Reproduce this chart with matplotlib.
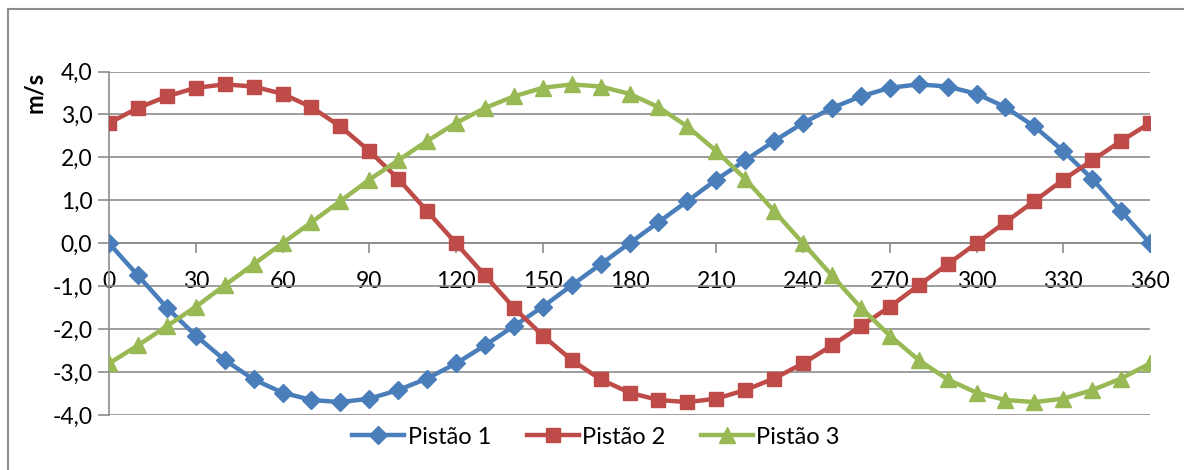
import matplotlib
matplotlib.use("Agg")
import matplotlib.pyplot as plt
from matplotlib.patches import Rectangle

angles = list(range(0, 361, 10))

pistao1 = [0.00, -0.75, -1.50, -2.15, -2.72, -3.17, -3.48, -3.65, -3.70, -3.62,
           -3.42, -3.15, -2.80, -2.38, -1.93, -1.48, -0.98, -0.49, 0.00, 0.49,
           0.98, 1.48, 1.93, 2.38, 2.80, 3.15, 3.42, 3.62, 3.70, 3.65,
           3.48, 3.17, 2.72, 2.15, 1.50, 0.75, 0.00]
pistao2 = [2.80, 3.15, 3.42, 3.62, 3.70, 3.65, 3.48, 3.17, 2.72, 2.15,
           1.50, 0.75, 0.00, -0.75, -1.50, -2.15, -2.72, -3.17, -3.48, -3.65,
           -3.70, -3.62, -3.42, -3.15, -2.80, -2.38, -1.93, -1.48, -0.98, -0.49,
           0.00, 0.49, 0.98, 1.48, 1.93, 2.38, 2.80]
pistao3 = [-2.80, -2.38, -1.93, -1.48, -0.98, -0.49, 0.00, 0.49, 0.98, 1.48,
           1.93, 2.38, 2.80, 3.15, 3.42, 3.62, 3.70, 3.65, 3.48, 3.17,
           2.72, 2.15, 1.50, 0.75, 0.00, -0.75, -1.50, -2.15, -2.72, -3.17,
           -3.48, -3.65, -3.70, -3.62, -3.42, -3.15, -2.80]

labels = ["Pistão 1", "Pistão 2", "Pistão 3"]
colors = ["#4A7EBB", "#BE4B48", "#98B954"]
markers = ["D", "s", "^"]
sizes = [9, 10, 11]

x_ticks = list(range(0, 361, 30))
y_ticks = [-4, -3, -2, -1, 0, 1, 2, 3, 4]

plt.rcParams["font.family"] = ["Lato", "DejaVu Sans"]

W, H = 1184, 470
fig = plt.figure(figsize=(W / 100, H / 100), dpi=100)
ax = fig.add_axes([109 / W, 1 - 415 / H, (1150 - 109) / W, (415 - 71.5) / H])

for ys, lab, c, m, s in zip([pistao1, pistao2, pistao3], labels, colors, markers, sizes):
    ax.plot(angles, ys, color=c, lw=3.2, marker=m, ms=s, label=lab, zorder=3)

ax.set_xlim(0, 360)
ax.set_ylim(-4, 4)
ax.set_yticks(y_ticks)
ax.set_yticklabels([f"{v:.1f}".replace(".", ",") for v in y_ticks])
ax.set_xticks(x_ticks)
ax.set_xticklabels([str(v) for v in x_ticks])
ax.grid(axis="y", color="#8c8c8c", lw=1.2)
ax.set_axisbelow(True)

for side in ["top", "right"]:
    ax.spines[side].set_visible(False)
ax.spines["left"].set_color("#8c8c8c")
ax.spines["left"].set_linewidth(1.2)
ax.spines["bottom"].set_position(("data", 0))
ax.spines["bottom"].set_color("#8c8c8c")
ax.spines["bottom"].set_linewidth(1.2)
ax.tick_params(axis="y", length=8, color="#8c8c8c", width=1.2, pad=4, labelsize=16.5)
ax.tick_params(axis="x", length=7, color="#8c8c8c", width=1.2, direction="out", pad=13,
               labelsize=16.5)

fig.text(35 / W, 1 - 92 / H, "m/s", rotation=90, fontsize=17, fontweight="bold",
         ha="center", va="center")

ax.legend(loc="center", bbox_to_anchor=(596 / W, 1 - 437 / H), bbox_transform=fig.transFigure,
          ncol=3, frameon=False, fontsize=17, handlelength=2.2, handletextpad=0.15,
          columnspacing=1.5, borderaxespad=0)

fig.patches.append(Rectangle((8 / W, -0.1), 1.2, 1 - 9 / H + 0.1, transform=fig.transFigure,
                             fill=False, edgecolor="#8c8c8c", lw=1.5))

fig.savefig("out.png", dpi=100)
